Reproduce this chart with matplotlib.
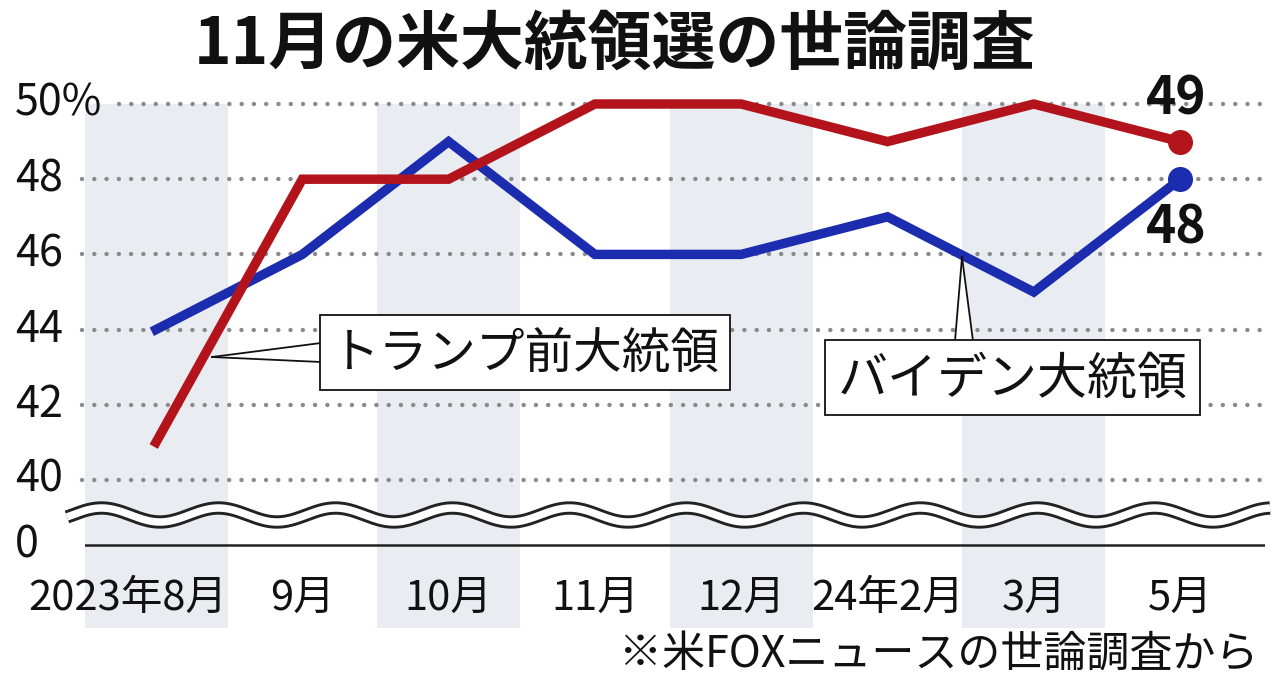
import numpy as np
import matplotlib
matplotlib.use("Agg")
import matplotlib.pyplot as plt
from matplotlib.transforms import Affine2D, blended_transform_factory
from matplotlib.patches import Rectangle, Polygon

plt.rcParams['font.family'] = ['Noto Sans CJK JP', 'DejaVu Sans']

# ---- data ----
months = ["2023年8月", "9月", "10月", "11月", "12月", "24年2月", "3月", "5月"]
trump = [41, 48, 48, 50, 50, 49, 50, 49]
biden = [44, 46, 49, 46, 46, 47, 45, 48]
yticks = [40, 42, 44, 46, 48, 50]
ytick_labels = ["40", "42", "44", "46", "48", "50%"]
shaded = [0, 2, 4, 6]  # indices with shaded bands

RED = "#b3141c"
BLUE = "#1b2cae"
BAND = "#e9ecf1"

W, H = 1280, 682
fig = plt.figure(figsize=(W / 100, H / 100), dpi=100)
pix = Affine2D().scale(1 / W, -1 / H).translate(0, 1) + fig.transFigure

# axes: x from 85 to 1265 px, y from 95 to 628 px
ax = fig.add_axes([85 / W, (H - 628) / H, 1180 / W, 533 / H])
xs = np.arange(len(months))
ppu_x = 146.3
ax.set_xlim(-71 / ppu_x, (1265 - 156) / ppu_x)
ppu_y = 37.6
ax.set_ylim(40 - (628 - 480) / ppu_y, 50 + (104 - 95) / ppu_y)
ax.axis("off")
y_zero = 40 - (545 - 480) / ppu_y

# shaded bands
for i in shaded:
    ax.add_patch(Rectangle((i - 0.49, ax.get_ylim()[0]), 0.98, 50 - ax.get_ylim()[0],
                           facecolor=BAND, edgecolor="none", zorder=0))

# dotted grid lines
for v in yticks:
    x0 = -0.49 + (35 / ppu_x if v == 50 else -2 / ppu_x)
    ax.plot([x0, ax.get_xlim()[1]], [v, v], color="#8a8a8a", lw=3.2,
            linestyle=(0, (0.01, 2.75)), dash_capstyle="round", zorder=1,
            clip_on=False)

# zero baseline
ax.plot([-0.49, ax.get_xlim()[1]], [y_zero, y_zero], color="#222222", lw=1.8, zorder=1)

# y tick labels
ytr = blended_transform_factory(pix, ax.transData)
for v, lab in zip(yticks, ytick_labels):
    fig.text(15, v, lab, transform=ytr, ha="left", va="center", fontsize=31,
             color="#111111")
fig.text(15, y_zero, "0", transform=ytr, ha="left", va="center", fontsize=31,
         color="#111111")

# wavy break
wx = np.linspace(67, 1270, 800)
wy = 515 + 7 * np.sin(2 * np.pi * (wx - 160) / 117 + np.pi / 2)
fig.add_artist(plt.Line2D(wx, wy, transform=pix, color="#222222", lw=9.6,
                          solid_capstyle="butt", zorder=5))
fig.add_artist(plt.Line2D(wx, wy, transform=pix, color="white", lw=5.4,
                          solid_capstyle="butt", zorder=6))

# lines
ax.plot(xs, biden, color=BLUE, lw=6.8, solid_joinstyle="miter", zorder=4)
ax.plot(xs, trump, color=RED, lw=6.8, solid_joinstyle="miter", zorder=4)
ax.plot(xs[-1], biden[-1], "o", color=BLUE, ms=17, zorder=5)
ax.plot(xs[-1], trump[-1], "o", color=RED, ms=17, zorder=5)

# end labels
fig.text(1176, 99, str(trump[-1]), transform=pix, ha="center", va="center",
         fontsize=37, fontweight="bold", color="#111111")
fig.text(1176, 228, str(biden[-1]), transform=pix, ha="center", va="center",
         fontsize=37, fontweight="bold", color="#111111")

# x labels
xtr = blended_transform_factory(ax.transData, pix)
for i, lab in enumerate(months):
    if i == 0:
        fig.text(i + 0.49, 598, lab, transform=xtr, ha="right", va="center",
                 fontsize=30, color="#111111")
    else:
        fig.text(i, 598, lab, transform=xtr, ha="center", va="center",
                 fontsize=30, color="#111111")

# callouts
def callout(box, wedge, text, fs):
    x0, y0, x1, y1 = box
    fig.add_artist(Polygon(wedge, closed=True, transform=pix, facecolor="white",
                           edgecolor="none", zorder=7))
    fig.add_artist(plt.Line2D([wedge[0][0], wedge[1][0]], [wedge[0][1], wedge[1][1]],
                              transform=pix, color="#111111", lw=1.3, zorder=8))
    fig.add_artist(plt.Line2D([wedge[2][0], wedge[1][0]], [wedge[2][1], wedge[1][1]],
                              transform=pix, color="#111111", lw=1.3, zorder=8))
    fig.add_artist(Rectangle((x0, y1), x1 - x0, y0 - y1, transform=pix,
                             facecolor="white", edgecolor="#111111", lw=1.3,
                             zorder=9))
    fig.text((x0 + x1) / 2, (y0 + y1) / 2 + 2, text, transform=pix, ha="center",
             va="center", fontsize=fs, color="#111111", zorder=10)

callout((320, 315, 730, 390), [(321, 343), (212, 357), (321, 362)],
        "トランプ前大統領", 35)
callout((825, 340, 1200, 415), [(955, 341), (962, 257), (973, 341)],
        "バイデン大統領", 36)

# title & note
fig.text(615, 45, "11月の米大統領選の世論調査", transform=pix, ha="center",
         va="center", fontsize=46, fontweight="bold", color="#111111")
fig.text(1258, 655, "※米FOXニュースの世論調査から", transform=pix, ha="right",
         va="center", fontsize=31, color="#111111")

fig.savefig("out.png", dpi=100, facecolor="white")
